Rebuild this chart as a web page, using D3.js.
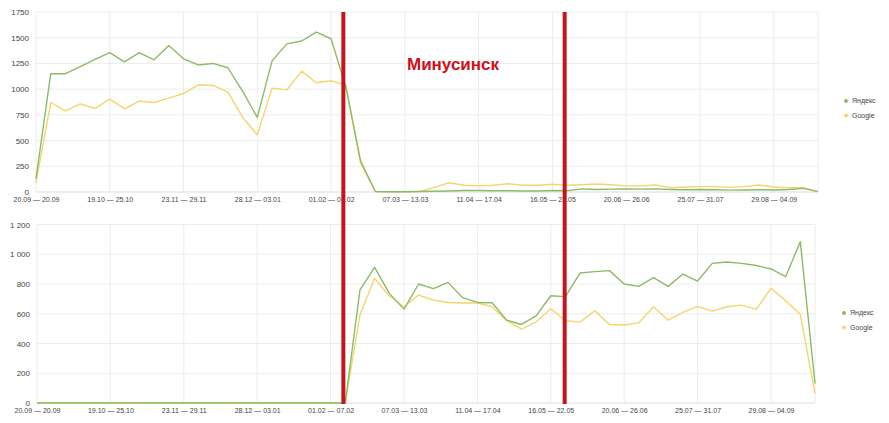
<!DOCTYPE html>
<html>
<head>
<meta charset="utf-8">
<script src="https://cdn.jsdelivr.net/npm/d3@7/dist/d3.min.js"></script>
<style>
  html, body { margin: 0; padding: 0; background: #fff; }
  svg { display: block; font-family: "Liberation Sans", Arial, sans-serif; }
</style>
</head>
<body>
<svg id="chart" width="889" height="423"></svg>
<script>
// ---- data ----
const categories = [
  "20.09 — 20.09","21.09 — 27.09","28.09 — 04.10","05.10 — 11.10","12.10 — 18.10",
  "19.10 — 25.10","26.10 — 01.11","02.11 — 08.11","09.11 — 15.11","16.11 — 22.11",
  "23.11 — 29.11","30.11 — 06.12","07.12 — 13.12","14.12 — 20.12","21.12 — 27.12",
  "28.12 — 03.01","04.01 — 10.01","11.01 — 17.01","18.01 — 24.01","25.01 — 31.01",
  "01.02 — 07.02","08.02 — 14.02","15.02 — 21.02","22.02 — 28.02","29.02 — 06.03",
  "07.03 — 13.03","14.03 — 20.03","21.03 — 27.03","28.03 — 03.04","04.04 — 10.04",
  "11.04 — 17.04","18.04 — 24.04","25.04 — 01.05","02.05 — 08.05","09.05 — 15.05",
  "16.05 — 22.05","23.05 — 29.05","30.05 — 05.06","06.06 — 12.06","13.06 — 19.06",
  "20.06 — 26.06","27.06 — 03.07","04.07 — 10.07","11.07 — 17.07","18.07 — 24.07",
  "25.07 — 31.07","01.08 — 07.08","08.08 — 14.08","15.08 — 21.08","22.08 — 28.08",
  "29.08 — 04.09","05.09 — 11.09","12.09 — 18.09","19.09 — 20.09"
];
const tickLabels = [
  "20.09 — 20.09","19.10 — 25.10","23.11 — 29.11","28.12 — 03.01","01.02 — 07.02",
  "07.03 — 13.03","11.04 — 17.04","16.05 — 22.05","20.06 — 26.06","25.07 — 31.07","29.08 — 04.09"
];
const seriesNames = ["Яндекс", "Google"];

const topYandex = [130,1150,1150,1220,1290,1355,1265,1355,1285,1425,
  1295,1235,1250,1208,980,725,1275,1440,1468,1555,
  1490,1020,300,5,2,2,5,8,10,15,
  15,12,12,10,10,15,12,30,25,28,
  30,28,30,25,22,25,22,18,20,22,
  20,25,35,3];
const topGoogle = [90,870,789,857,812,903,808,883,870,912,
  958,1042,1036,974,727,555,1010,993,1175,1062,
  1081,1040,280,5,2,2,5,45,90,65,
  60,65,80,65,65,75,65,70,78,70,
  60,60,68,42,48,52,52,45,52,68,
  48,42,42,3];
const bottomYandex = [0,0,0,0,0,0,0,0,0,0,
  0,0,0,0,0,0,0,0,0,0,
  0,0,760,912,737,631,800,769,811,708,
  676,674,557,528,586,721,715,874,883,890,
  800,784,843,784,867,820,939,948,939,924,
  901,849,1085,130];
const bottomGoogle = [0,0,0,0,0,0,0,0,0,0,
  0,0,0,0,0,0,0,0,0,0,
  0,0,591,838,719,647,726,692,676,672,
  672,647,553,497,544,634,553,544,620,528,
  524,539,647,557,609,649,618,647,658,629,
  771,688,596,63];

const topTicks = [0,250,500,750,1000,1250,1500,1750];
const bottomTicks = [0,200,400,600,800,1000,1200];
const markerCategories = ["08.02 — 14.02", "23.05 — 29.05"];
const annotation = "Минусинск";

// ---- drawing ----
const svg = d3.select("#chart");
const colors = { "Яндекс": "#8dba68", "Google": "#f3d66c" };
const fmtTop = d3.format("d");
const fmtBottom = v => d3.format(",d")(v).replace(/,/g, " ");

function drawPanel(cfg) {
  const x = d3.scalePoint().domain(categories).range([cfg.x0, cfg.x1]);
  const y = d3.scaleLinear().domain([0, cfg.max]).range([cfg.yb, cfg.yt]);
  const g = svg.append("g");

  g.selectAll(".hg").data(cfg.ticks).enter().append("line")
    .attr("x1", cfg.x0).attr("x2", cfg.x1)
    .attr("y1", d => y(d)).attr("y2", d => y(d))
    .attr("stroke", d => d === 0 ? "#dcdcdc" : "#ececec").attr("stroke-width", 1);
  const vg = tickLabels.concat([categories[categories.length - 1]]);
  g.selectAll(".vg").data(vg).enter().append("line")
    .attr("x1", d => x(d)).attr("x2", d => x(d))
    .attr("y1", cfg.yt).attr("y2", cfg.yb)
    .attr("stroke", "#ececec").attr("stroke-width", 1);

  const yAxis = d3.axisLeft(y).tickValues(cfg.ticks).tickSize(0).tickPadding(0).tickFormat(cfg.fmt);
  const ya = g.append("g").attr("transform", `translate(${cfg.x0 - 7},0)`).call(yAxis);
  ya.select(".domain").remove();
  ya.selectAll("text").attr("font-size", 8).attr("fill", "#444")
    .attr("font-family", "'Liberation Sans', Arial, sans-serif");

  const xAxis = d3.axisBottom(x).tickValues(tickLabels).tickSize(0).tickPadding(0);
  const xa = g.append("g").attr("transform", `translate(0,${cfg.yb + 5})`).call(xAxis);
  xa.select(".domain").remove();
  xa.selectAll("text").attr("font-size", 7).attr("fill", "#444")
    .attr("font-family", "'Liberation Sans', Arial, sans-serif");

  const line = d3.line().x((d, i) => x(categories[i])).y(d => y(d));
  [["Google", cfg.google], ["Яндекс", cfg.yandex]].forEach(([name, vals]) => {
    g.append("path").datum(vals)
      .attr("fill", "none").attr("stroke", colors[name])
      .attr("stroke-width", 1.4).attr("stroke-linejoin", "round")
      .attr("d", line);
  });

  const lg = g.append("g");
  seriesNames.forEach((name, i) => {
    const ly = cfg.legendY + i * 14.5;
    lg.append("circle").attr("cx", cfg.legendX).attr("cy", ly).attr("r", 2)
      .attr("fill", colors[name]);
    lg.append("text").attr("x", cfg.legendX + 6).attr("y", ly).attr("dy", "0.35em")
      .attr("font-size", 7).attr("fill", "#444").text(name);
  });
  return { x, y };
}

const topPanel = drawPanel({
  x0: 36, x1: 818, yt: 12, yb: 192, max: 1750, ticks: topTicks, fmt: fmtTop,
  yandex: topYandex, google: topGoogle, legendX: 846, legendY: 101
});
const bottomPanel = drawPanel({
  x0: 37, x1: 815, yt: 224.5, yb: 403, max: 1200, ticks: bottomTicks, fmt: fmtBottom,
  yandex: bottomYandex, google: bottomGoogle, legendX: 844, legendY: 313
});

svg.selectAll(".marker").data(markerCategories).enter().append("line")
  .attr("x1", d => topPanel.x(d) - 2.5).attr("x2", d => topPanel.x(d) - 2.5)
  .attr("y1", topPanel.y(1750)).attr("y2", bottomPanel.y(0) + 1)
  .attr("stroke", "#c3151b").attr("stroke-width", 4);

svg.append("text")
  .attr("x", 453).attr("y", 70)
  .attr("text-anchor", "middle")
  .attr("font-size", 17).attr("font-weight", "bold")
  .attr("fill", "#cc1118")
  .text(annotation);
</script>
</body>
</html>
